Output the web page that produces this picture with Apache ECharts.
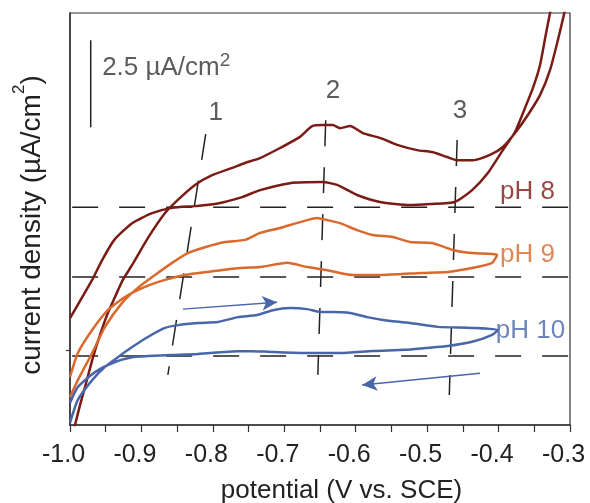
<!DOCTYPE html>
<html>
<head>
<meta charset="utf-8">
<script src="https://cdn.jsdelivr.net/npm/echarts@6/dist/echarts.min.js"></script>
<style>
html,body{margin:0;padding:0;background:#fff;}
#chart{width:590px;height:503px;}
</style>
</head>
<body>
<div id="chart"></div>
<script>
// ---------- data (potential V vs. SCE, current density µA/cm² with arbitrary offset) ----------
const xTicks = [-1.0, -0.9, -0.8, -0.7, -0.6, -0.5, -0.4, -0.3];

const ph8Forward = [[-1.000,-0.63],[-0.993,0.00],[-0.986,0.57],[-0.979,1.09],[-0.968,1.93],[-0.958,2.59],[-0.947,3.22],[-0.937,3.68],[-0.926,4.17],[-0.913,4.60],[-0.891,5.37],[-0.867,6.09],[-0.849,6.47],[-0.825,6.90],[-0.801,7.18],[-0.773,7.39],[-0.755,7.53],[-0.734,7.67],[-0.706,7.96],[-0.678,8.28],[-0.661,8.59],[-0.646,8.62],[-0.632,8.62],[-0.622,8.53],[-0.608,8.59],[-0.590,8.39],[-0.566,8.25],[-0.542,8.05],[-0.514,7.90],[-0.492,7.84],[-0.472,7.70],[-0.458,7.61],[-0.436,7.61],[-0.412,7.76],[-0.394,7.99],[-0.377,8.39],[-0.359,8.91],[-0.342,9.48],[-0.328,10.20],[-0.317,11.06],[-0.308,11.84],[-0.300,12.64]];
const ph8Reverse = [[-0.320,12.64],[-0.328,11.84],[-0.334,11.21],[-0.342,10.34],[-0.352,9.68],[-0.363,9.11],[-0.377,8.42],[-0.394,7.90],[-0.415,7.24],[-0.437,6.75],[-0.461,6.41],[-0.496,6.35],[-0.524,6.32],[-0.566,6.41],[-0.598,6.61],[-0.626,6.90],[-0.646,6.98],[-0.692,6.95],[-0.734,6.75],[-0.759,6.55],[-0.797,6.35],[-0.825,6.29],[-0.857,6.24],[-0.885,6.09],[-0.913,5.80],[-0.938,5.32],[-0.955,4.74],[-0.969,4.17],[-1.000,3.07]];

const ph9Forward = [[-1.000,0.80],[-0.989,1.29],[-0.969,2.07],[-0.951,2.82],[-0.927,3.51],[-0.905,3.94],[-0.881,4.31],[-0.857,4.66],[-0.835,4.94],[-0.811,5.11],[-0.783,5.26],[-0.755,5.32],[-0.734,5.52],[-0.706,5.66],[-0.678,5.83],[-0.654,5.95],[-0.640,5.89],[-0.622,5.80],[-0.598,5.60],[-0.576,5.46],[-0.548,5.40],[-0.524,5.26],[-0.493,5.23],[-0.464,5.03],[-0.437,4.94],[-0.402,4.89]];
const ph9Reverse = [[-0.409,4.66],[-0.437,4.51],[-0.471,4.40],[-0.507,4.37],[-0.566,4.31],[-0.604,4.31],[-0.640,4.45],[-0.668,4.54],[-0.696,4.66],[-0.734,4.54],[-0.762,4.51],[-0.807,4.40],[-0.839,4.31],[-0.867,4.17],[-0.895,3.97],[-0.923,3.68],[-0.947,3.30],[-0.969,2.73],[-0.989,2.07],[-1.000,1.38]];

const ph10Forward = [[-1.000,0.06],[-0.989,0.72],[-0.969,1.29],[-0.951,1.67],[-0.933,1.95],[-0.913,2.24],[-0.891,2.53],[-0.867,2.79],[-0.849,2.87],[-0.821,2.93],[-0.793,2.96],[-0.765,3.10],[-0.738,3.16],[-0.716,3.30],[-0.692,3.36],[-0.668,3.33],[-0.650,3.25],[-0.632,3.25],[-0.608,3.22],[-0.584,3.10],[-0.562,3.02],[-0.524,2.93],[-0.485,2.82],[-0.437,2.79],[-0.401,2.73]];
const ph10Reverse = [[-0.409,2.59],[-0.437,2.39],[-0.471,2.27],[-0.503,2.21],[-0.531,2.16],[-0.576,2.13],[-0.622,2.07],[-0.668,2.07],[-0.716,2.10],[-0.755,2.13],[-0.783,2.10],[-0.821,2.04],[-0.857,2.01],[-0.891,1.98],[-0.913,1.95],[-0.937,1.81],[-0.965,1.52],[-0.989,1.09],[-1.000,0.63]];

// dashed baselines (pH 8, pH 9, pH 10)
const baselineLevels = [6.26, 4.25, 1.98];
const baselineRange = [-0.997, -0.300];
// dashed peak guide lines 1, 2, 3 (top point, bottom point)
const peakLines = [
  [[-0.810, 8.36], [-0.863, 1.44]],
  [[-0.642, 8.76], [-0.653, 1.44]],
  [[-0.458, 8.19], [-0.469, 0.86]]
];
const peakNames = ['1', '2', '3'];
const peakLabelPos = [[-0.796, 8.97], [-0.632, 9.60], [-0.454, 9.02]];
const phNames = ['pH 8', 'pH 9', 'pH 10'];
const phLabelPos = [[-0.398, 6.71], [-0.398, 4.89], [-0.404, 2.70]];
// scale bar of 2.5 µA/cm²
const scaleBar = [[-0.971, 11.06], [-0.971, 8.56]];
const scaleLabelPos = [-0.955, 10.27];
// sweep direction arrows
const arrows = [
  [[-0.842, 3.33], [-0.710, 3.53]],
  [[-0.426, 1.49], [-0.591, 1.15]]
];

// ---------- styling ----------
const FONT = 'Liberation Sans, Arial, Helvetica, sans-serif';
const RED = '#7a1c15', ORANGE = '#d9692c', BLUE = '#4866a9', INK = '#222';
const phColors = [RED, ORANGE, BLUE];

const chart = echarts.init(document.getElementById('chart'));

function curve(name, fwd, rev, color) {
  return {
    name, type: 'line', data: fwd.concat(rev), showSymbol: false, symbol: 'none',
    smooth: 0.2, clip: true, silent: true, z: 3,
    lineStyle: { color, width: 2.5 }
  };
}
function dashed(data) {
  return {
    type: 'line', data, showSymbol: false, symbol: 'none', silent: true, z: 2,
    lineStyle: { color: INK, width: 1.5, type: [26, 21] }
  };
}

const series = [];
baselineLevels.forEach(v => series.push(dashed([[baselineRange[0], v], [baselineRange[1], v]])));
peakLines.forEach(seg => series.push(dashed(seg)));
series.push(curve('pH 8', ph8Forward, ph8Reverse, RED));
series.push(curve('pH 9', ph9Forward, ph9Reverse, ORANGE));
const ph10 = curve('pH 10', ph10Forward, ph10Reverse, BLUE);
ph10.markLine = {
  silent: true, symbol: ['none', 'arrow'], symbolSize: [11, 15],
  label: { show: false }, animation: false,
  lineStyle: { color: BLUE, width: 1.5, type: 'solid' },
  data: arrows.map(a => [{ coord: a[0] }, { coord: a[1] }])
};
series.push(ph10);
series.push({
  type: 'line', data: scaleBar, showSymbol: false, symbol: 'none', silent: true,
  lineStyle: { color: INK, width: 1.5 }
});

const textData = [];
peakNames.forEach((n, i) => textData.push({
  value: peakLabelPos[i],
  label: { formatter: n, align: 'center', fontSize: 26, color: '#333' }
}));
phNames.forEach((n, i) => textData.push({
  value: phLabelPos[i],
  label: { formatter: n, align: 'left', fontSize: 26, color: phColors[i] }
}));
textData.push({
  value: scaleLabelPos,
  label: {
    formatter: '{a|2.5 µA/cm}{s|2}', align: 'left',
    rich: {
      a: { fontSize: 26, lineHeight: 32, color: '#333', fontFamily: FONT },
      s: { fontSize: 19, lineHeight: 19, verticalAlign: 'top', color: '#333', fontFamily: FONT }
    }
  }
});
series.push({
  type: 'scatter', data: textData, symbolSize: 0, silent: true, z: 10,
  label: { show: true, position: [0, 0], verticalAlign: 'middle', fontFamily: FONT }
});

chart.setOption({
  animation: false,
  backgroundColor: '#fff',
  grid: {
    left: 70, right: 20, top: 13, bottom: 78, outerBoundsMode: 'none', containLabel: false,
    show: true, borderColor: '#333', borderWidth: 1.2, backgroundColor: '#fff'
  },
  xAxis: {
    type: 'value', min: xTicks[0], max: xTicks[xTicks.length - 1], interval: 0.1,
    axisLine: { show: true, lineStyle: { color: '#333', width: 1.5 } },
    axisTick: { show: true, inside: false, length: 7, lineStyle: { color: '#333', width: 1.2 } },
    minorTick: { show: true, splitNumber: 2, length: 7, lineStyle: { color: '#333', width: 1.2 } },
    splitLine: { show: false },
    axisLabel: {
      margin: 18, fontSize: 25, color: INK, fontFamily: FONT, padding: [0, 13, 0, 0],
      formatter: v => { const t = xTicks.find(x => Math.abs(x - v) < 1e-6); return (t !== undefined ? t : v).toFixed(1); }
    },
    name: 'potential (V vs. SCE)', nameLocation: 'middle', nameGap: 53,
    nameTextStyle: { fontSize: 26, color: INK, fontFamily: FONT, padding: [0, 0, 0, 43] }
  },
  yAxis: {
    type: 'value', min: 0, max: 11.84,
    axisLine: { show: true, lineStyle: { color: '#333', width: 1.5 } },
    axisTick: { show: true, inside: false, length: 4, customValues: [2.16], lineStyle: { color: '#333', width: 1.2 } },
    axisLabel: { show: false },
    splitLine: { show: false },
    name: '{a|current density (µA/cm}{s|2}{a|)}', nameLocation: 'middle', nameGap: 16,
    nameTextStyle: {
      padding: [0, 12, 0, 0],
      rich: {
        a: { fontSize: 28, lineHeight: 43, color: INK, fontFamily: FONT },
        s: { fontSize: 17, lineHeight: 17, verticalAlign: 'top', color: INK, fontFamily: FONT }
      }
    }
  },
  series
});
</script>
</body>
</html>
